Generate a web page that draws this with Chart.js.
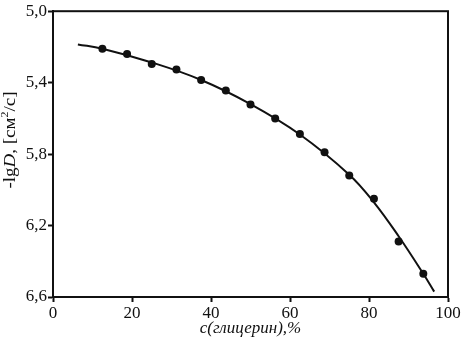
<!DOCTYPE html>
<html>
<head>
<meta charset="utf-8">
<script src="https://cdn.jsdelivr.net/npm/chart.js@4"></script>
<style>
  html, body { margin: 0; padding: 0; background: #fff; }
  #wrap { position: relative; width: 463px; height: 341px; }
</style>
</head>
<body>
<div id="wrap"><canvas id="diffusion"></canvas></div>
<script>
// measured points: glycerol concentration (%) vs -lgD
const glycerol = [12.5, 18.75, 25, 31.25, 37.5, 43.75, 50, 56.25, 62.5, 68.75, 75, 81.25, 87.5, 93.75];
const minusLgD = [5.21, 5.239, 5.296, 5.326, 5.385, 5.444, 5.522, 5.601, 5.688, 5.789, 5.92, 6.05, 6.289, 6.47];

// fitted curve
const fitX = [6.3, 12.5, 25, 37.5, 50, 62.5, 75, 81.25, 87.5, 93.75, 96.5];
const fitY = [5.186, 5.21, 5.287, 5.385, 5.52, 5.69, 5.915, 6.07, 6.26, 6.47, 6.57];

const xTicks = [0, 20, 40, 60, 80, 100];
const yTicks = [5.0, 5.4, 5.8, 6.2, 6.6];

const serif = "'Liberation Serif', 'DejaVu Serif', serif";
const ink = "#111";

// box around plot + y title with italic D and superscript 2
const frame = {
  id: "frame",
  afterDraw(chart) {
    const { ctx, chartArea: a } = chart;
    ctx.save();
    ctx.strokeStyle = ink;
    ctx.lineWidth = 2;
    ctx.strokeRect(a.left, a.top, a.right - a.left, a.bottom - a.top);

    const parts = [
      { t: "-lg", f: "16px " + serif, dy: 0 },
      { t: "D", f: "italic 16px " + serif, dy: 0 },
      { t: ", [см", f: "16px " + serif, dy: 0 },
      { t: "2", f: "10px " + serif, dy: -7 },
      { t: "/с]", f: "16px " + serif, dy: 0 },
    ];
    let total = 0;
    parts.forEach((p) => {
      ctx.font = p.f;
      p.w = ctx.measureText(p.t).width;
      total += p.w;
    });
    // the original title is drawn a little stretched along its length
    const stretch = 97 / total;
    ctx.translate(15, 140);
    ctx.rotate(-Math.PI / 2);
    ctx.scale(stretch, 1);
    ctx.fillStyle = ink;
    ctx.textBaseline = "alphabetic";
    let x = -total / 2;
    parts.forEach((p) => {
      ctx.font = p.f;
      ctx.fillText(p.t, x, p.dy);
      x += p.w;
    });
    ctx.restore();
  },
};

new Chart(document.getElementById("diffusion"), {
  type: "scatter",
  data: {
    datasets: [
      {
        label: "fit",
        type: "line",
        data: fitX.map((x, i) => ({ x, y: fitY[i] })),
        borderColor: ink,
        borderWidth: 2,
        pointRadius: 0,
        tension: 0.4,
        fill: false,
      },
      {
        label: "data",
        data: glycerol.map((x, i) => ({ x, y: minusLgD[i] })),
        backgroundColor: ink,
        borderColor: ink,
        pointRadius: 4,
        borderWidth: 0,
      },
    ],
  },
  options: {
    responsive: true,
    maintainAspectRatio: false,
    animation: false,
    layout: { padding: { top: 7, right: 15, left: 0, bottom: 0 } },
    plugins: { legend: { display: false }, tooltip: { enabled: false } },
    scales: {
      x: {
        type: "linear",
        min: 0,
        max: 100,
        afterBuildTicks: (s) => { s.ticks = xTicks.map((v) => ({ value: v })); },
        afterFit: (s) => { s.height = 44; },
        grid: { drawOnChartArea: false, tickLength: 5, tickWidth: 2, color: ink },
        border: { color: ink, width: 2 },
        ticks: { color: ink, padding: 1, font: { family: serif, size: 17 } },
        title: {
          display: true,
          text: "c(глицерин),%",
          color: ink,
          padding: { top: 0, bottom: 2 },
          font: { family: serif, size: 17, style: "italic" },
        },
      },
      y: {
        reverse: true,
        min: 5.0,
        max: 6.6,
        afterBuildTicks: (s) => { s.ticks = yTicks.map((v) => ({ value: v })); },
        afterFit: (s) => { s.width = 53; },
        grid: { drawOnChartArea: false, tickLength: 5, tickWidth: 2, color: ink },
        border: { color: ink, width: 2 },
        ticks: {
          color: ink,
          padding: 1,
          font: { family: serif, size: 17 },
          callback: (v) => v.toFixed(1).replace(".", ","),
        },
      },
    },
  },
  plugins: [frame],
});
</script>
</body>
</html>
